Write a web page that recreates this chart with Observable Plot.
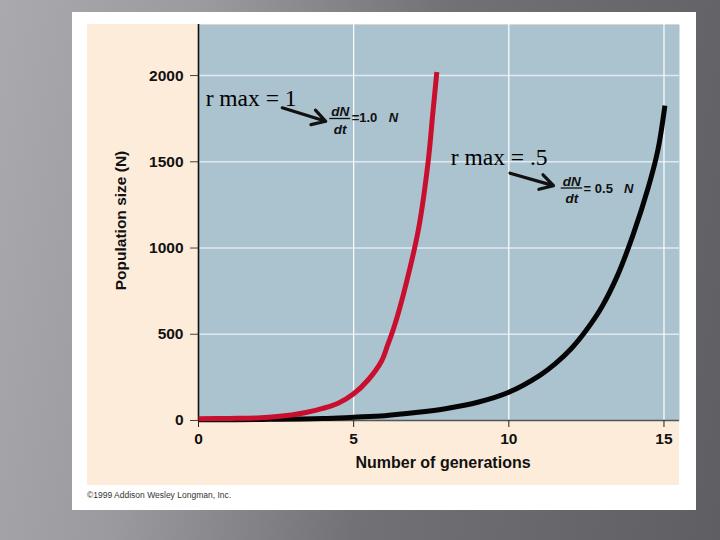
<!DOCTYPE html>
<html><head><meta charset="utf-8">
<script src="https://cdn.jsdelivr.net/npm/d3@7"></script>
<script src="https://cdn.jsdelivr.net/npm/@observablehq/plot@0.6"></script>
<style>
html,body{margin:0;padding:0;}
body{width:720px;height:540px;overflow:hidden;position:relative;
  background:linear-gradient(100deg,#aaa9ae 0%,#9b9a9f 25%,#727176 55%,#5f5e63 100%);
  font-family:"Liberation Sans",Arial,sans-serif;}
#card{position:absolute;left:72px;top:12px;width:624px;height:498px;background:#fff;}
#panel{position:absolute;left:87px;top:24px;width:592px;height:461px;background:#fdecd9;}
#chart{position:absolute;left:87px;top:24px;}
#credit{position:absolute;left:87px;top:490px;font-size:8.5px;color:#333;white-space:nowrap;}
</style></head><body>
<div id="card"></div><div id="panel"></div><div id="chart"></div>
<div id="credit">©1999 Addison Wesley Longman, Inc.</div>
<script>
// Data
const redT = [0, 1, 2, 3, 3.5, 4, 4.5, 5, 5.45, 5.9, 6.1, 6.3, 6.7, 7.1, 7.4, 7.55, 7.68];
const redN = [10, 12, 16, 32, 48, 70, 100, 155, 232, 345, 440, 540, 800, 1120, 1500, 1780, 2020];
const blackT = [0, 2, 4, 5, 6, 7, 8, 9, 10, 11, 11.5, 12, 12.5, 13, 13.5, 14, 14.5, 14.8, 15.03];
const blackN = [4, 6, 11, 19, 28, 46, 70, 106, 164, 262, 330, 415, 525, 660, 840, 1075, 1355, 1565, 1826];

const xTicks = [0, 5, 10, 15];
const yTicks = [0, 500, 1000, 1500, 2000];
const xGrid = [5, 10, 15];
const yGrid = [500, 1000, 1500, 2000];

// Annotations (data units)
const noteText = ["r max = 1", "r max = .5"];
const noteX = [0.23, 8.13];
const noteY = [1826, 1484];
const arrowX1 = [2.70, 10.04], arrowY1 = [1813, 1434];
const arrowX2 = [4.10, 11.44], arrowY2 = [1735, 1362];
const fracX = [4.565, 12.03];
const fracNumY = [1768, 1362];
const fracDenY = [1664, 1260];
const fracLineY = [1751, 1348];
const fracX1 = [4.23, 11.69], fracX2 = [4.90, 12.38];
const eqText = ["=1.0", "= 0.5"];
const eqX = [4.935, 12.41];
const eqY = [1753, 1345];
const eqNX = [6.13, 13.71];

const font = "'Liberation Sans', Arial, Helvetica, sans-serif";
const ink = "#111";

const chart = Plot.plot({
  width: 592, height: 461,
  marginLeft: 111, marginRight: 0, marginTop: 0, marginBottom: 65,
  style: {background: "transparent", fontFamily: font, color: ink, overflow: "visible"},
  x: {domain: [0, 15.5]},
  y: {domain: [0, 2296]},
  marks: [
    Plot.frame({fill: "#abc2cf", stroke: null}),
    Plot.ruleY(yGrid, {stroke: "#dfeaf1", strokeWidth: 1.6}),
    Plot.ruleX(xGrid, {stroke: "#ffffff", strokeWidth: 1.2}),
    Plot.ruleY([0], {stroke: "#555", strokeWidth: 1.5}),
    Plot.ruleX([0], {stroke: "#111", strokeWidth: 1.6}),
    Plot.axisY({ticks: yTicks, tickFormat: d3.format("d"), tickSize: 8, tickPadding: 7, fontSize: 15.5, fontWeight: "bold", label: null, stroke: "#4d4034", fill: ink}),
    Plot.axisX({ticks: xTicks, tickFormat: d3.format("d"), tickSize: 7, tickPadding: 5, fontSize: 15.5, fontWeight: "bold", label: null, stroke: "#222", fill: ink}),
    Plot.text(["Population size (N)"], {text: d => d, frameAnchor: "left", textAnchor: "middle", dx: -72.5, dy: -2, rotate: -90, lineAnchor: "bottom", fontSize: 15.5, fontWeight: "bold", fill: ink}),
    Plot.text(["Number of generations"], {text: d => d, frameAnchor: "bottom", textAnchor: "middle", dx: 4, dy: 47, lineAnchor: "bottom", fontSize: 16, fontWeight: "bold", fill: ink}),
    Plot.line(blackT, {x: blackT, y: blackN, stroke: "#050505", strokeWidth: 5, curve: "catmull-rom", strokeLinecap: "butt"}),
    Plot.line(redT, {x: redT, y: redN, stroke: "#c8102e", strokeWidth: 5, curve: "catmull-rom", strokeLinecap: "butt"}),
    Plot.text(noteText, {x: noteX, y: noteY, text: noteText, textAnchor: "start", lineAnchor: "bottom", fontFamily: "'Liberation Serif', 'Times New Roman', serif", fontSize: 23.5, fill: "#000"}),
    Plot.arrow(arrowX1, {x1: arrowX1, y1: arrowY1, x2: arrowX2, y2: arrowY2, stroke: "#111", strokeWidth: 3.2, headLength: 9}),
    Plot.text(fracX, {x: fracX, y: fracNumY, text: () => "dN", textAnchor: "middle", lineAnchor: "bottom", fontSize: 13.5, fontWeight: "bold", fontStyle: "italic", fill: ink}),
    Plot.text(fracX, {x: fracX, y: fracDenY, text: () => "dt", textAnchor: "middle", lineAnchor: "bottom", fontSize: 13.5, fontWeight: "bold", fontStyle: "italic", fill: ink}),
    Plot.ruleY(fracLineY, {y: fracLineY, x1: fracX1, x2: fracX2, stroke: ink, strokeWidth: 1.3}),
    Plot.text(eqText, {x: eqX, y: eqY, text: eqText, textAnchor: "start", lineAnchor: "middle", fontSize: 13, fontWeight: "bold", fill: ink}),
    Plot.text(eqNX, {x: eqNX, y: eqY, text: () => "N", textAnchor: "start", lineAnchor: "middle", fontSize: 13, fontWeight: "bold", fontStyle: "italic", fill: ink})
  ]
});
document.getElementById("chart").appendChild(chart);
</script>
</body></html>
